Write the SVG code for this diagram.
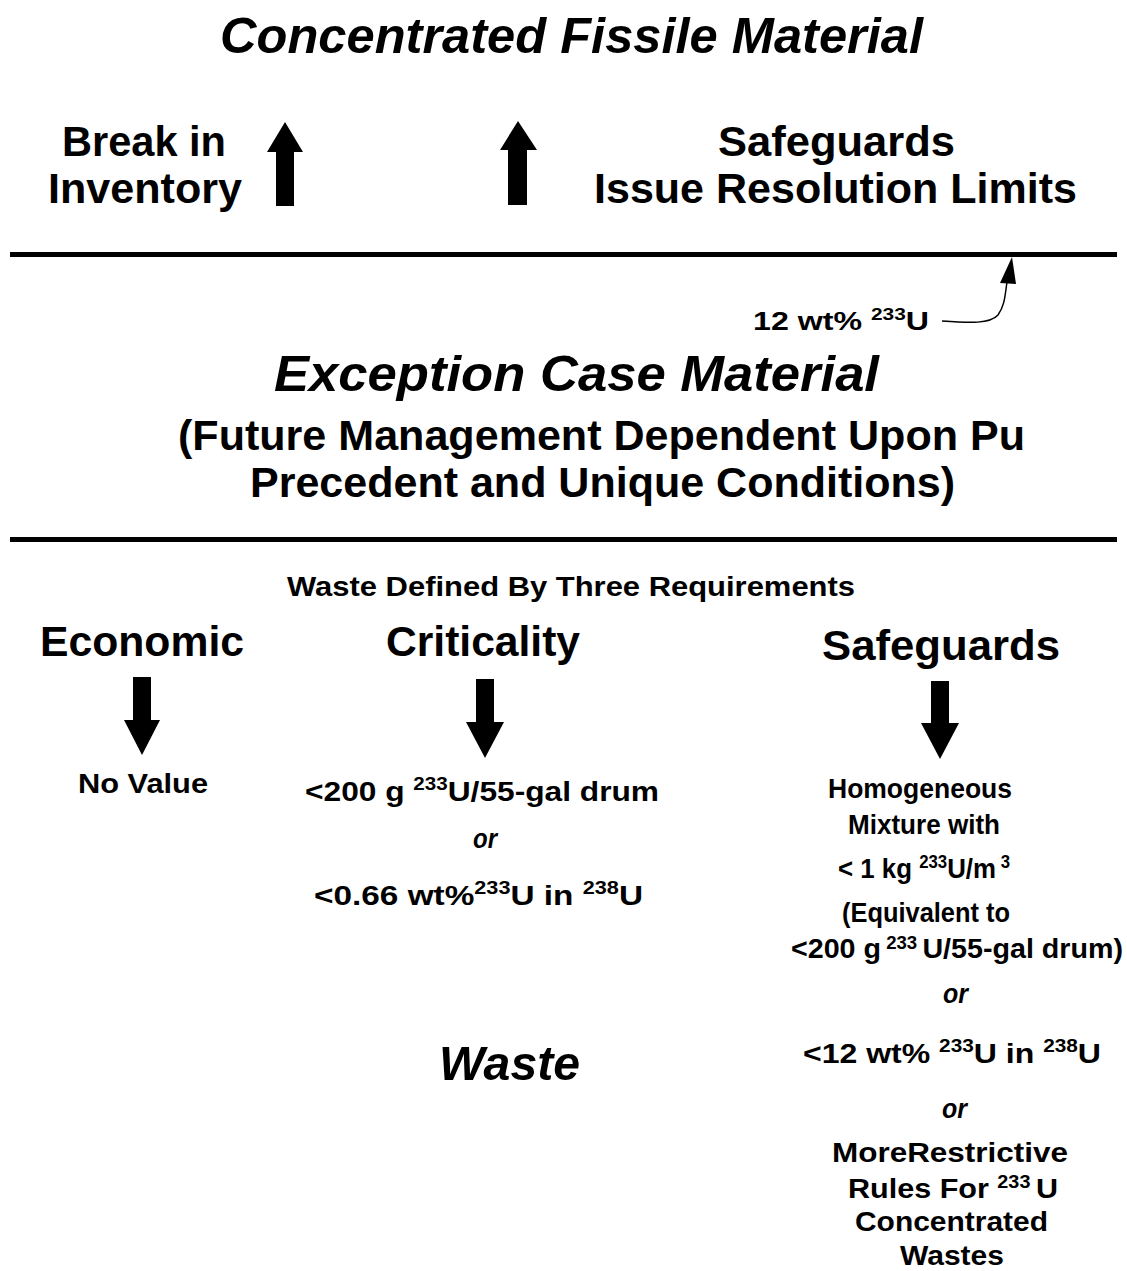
<svg xmlns="http://www.w3.org/2000/svg" width="1127" height="1271" viewBox="0 0 1127 1271">
<style>
text{font-family:"Liberation Sans",Arial,sans-serif;font-weight:bold;fill:#000}
.it{font-style:italic}
.sup{font-size:0.65em}
</style>
<rect width="1127" height="1271" fill="#fff"/>
<g id="title"><text class="it" x="220" y="53" font-size="50" textLength="703" lengthAdjust="spacingAndGlyphs">Concentrated Fissile Material</text></g>
<g id="break-inventory">
<text x="62" y="156" font-size="42" textLength="164" lengthAdjust="spacingAndGlyphs">Break in</text>
<text x="48" y="203" font-size="42" textLength="194" lengthAdjust="spacingAndGlyphs">Inventory</text>
</g>
<g id="safeguards-limits">
<text x="718" y="156" font-size="42" textLength="237" lengthAdjust="spacingAndGlyphs">Safeguards</text>
<text x="594" y="203" font-size="42" textLength="483" lengthAdjust="spacingAndGlyphs">Issue Resolution Limits</text>
</g>
<g id="label-12wt"><text x="753" y="330" font-size="26" textLength="176" lengthAdjust="spacingAndGlyphs">12 wt% <tspan class="sup" dy="-10">233</tspan><tspan dy="10">U</tspan></text></g>
<g id="exception">
<text class="it" x="274" y="391" font-size="50" textLength="605" lengthAdjust="spacingAndGlyphs">Exception Case Material</text>
<text x="178" y="450" font-size="42" textLength="847" lengthAdjust="spacingAndGlyphs">(Future Management Dependent Upon Pu</text>
<text x="250" y="497" font-size="42" textLength="705" lengthAdjust="spacingAndGlyphs">Precedent and Unique Conditions)</text>
</g>
<g id="waste-defined"><text x="287" y="596" font-size="27" textLength="568" lengthAdjust="spacingAndGlyphs">Waste Defined By Three Requirements</text></g>
<g id="economic">
<text x="40" y="656" font-size="42" textLength="204" lengthAdjust="spacingAndGlyphs">Economic</text>
<text x="78" y="793" font-size="28" textLength="130" lengthAdjust="spacingAndGlyphs">No Value</text>
</g>
<g id="criticality">
<text x="386" y="656" font-size="42" textLength="194" lengthAdjust="spacingAndGlyphs">Criticality</text>
<text x="305" y="801" font-size="28" textLength="354" lengthAdjust="spacingAndGlyphs">&lt;200 g <tspan class="sup" dy="-11">233</tspan><tspan dy="11">U/55-gal drum</tspan></text>
<text class="it" x="473" y="848" font-size="28" textLength="24" lengthAdjust="spacingAndGlyphs">or</text>
<text x="314" y="905" font-size="28" textLength="329" lengthAdjust="spacingAndGlyphs">&lt;0.66 wt%<tspan class="sup" dy="-11">233</tspan><tspan dy="11">U in </tspan><tspan class="sup" dy="-11">238</tspan><tspan dy="11">U</tspan></text>
</g>
<g id="safeguards">
<text x="822" y="660" font-size="43" textLength="238" lengthAdjust="spacingAndGlyphs">Safeguards</text>
<text x="828" y="798" font-size="27" textLength="184" lengthAdjust="spacingAndGlyphs">Homogeneous</text>
<text x="848" y="834" font-size="27" textLength="152" lengthAdjust="spacingAndGlyphs">Mixture with</text>
<text x="838" y="878" font-size="27" textLength="172" lengthAdjust="spacingAndGlyphs">&lt; 1 kg <tspan class="sup" dy="-10">233</tspan><tspan dy="10">U/m</tspan><tspan class="sup" dy="-10"> 3</tspan></text>
<text x="842" y="922" font-size="27" textLength="168" lengthAdjust="spacingAndGlyphs">(Equivalent to</text>
<text x="791" y="958" font-size="27" textLength="332" lengthAdjust="spacingAndGlyphs">&lt;200 g<tspan class="sup" dy="-9"> 233 </tspan><tspan dy="9">U/55-gal drum)</tspan></text>
<text class="it" x="943" y="1003" font-size="27" textLength="25" lengthAdjust="spacingAndGlyphs">or</text>
<text x="803" y="1063" font-size="28" textLength="298" lengthAdjust="spacingAndGlyphs">&lt;12 wt% <tspan class="sup" dy="-11">233</tspan><tspan dy="11">U in </tspan><tspan class="sup" dy="-11">238</tspan><tspan dy="11">U</tspan></text>
<text class="it" x="942" y="1118" font-size="27" textLength="25" lengthAdjust="spacingAndGlyphs">or</text>
<text x="832" y="1162" font-size="27" textLength="236" lengthAdjust="spacingAndGlyphs">MoreRestrictive</text>
<text x="848" y="1198" font-size="27" textLength="210" lengthAdjust="spacingAndGlyphs">Rules For <tspan class="sup" dy="-10">233 </tspan><tspan dy="10">U</tspan></text>
<text x="855" y="1231" font-size="27" textLength="193" lengthAdjust="spacingAndGlyphs">Concentrated</text>
<text x="900" y="1265" font-size="27" textLength="104" lengthAdjust="spacingAndGlyphs">Wastes</text>
</g>
<g id="waste"><text class="it" x="439" y="1080" font-size="48" textLength="141" lengthAdjust="spacingAndGlyphs">Waste</text></g>
<g id="connectors">
<rect x="10" y="252" width="1107" height="5"/>
<rect x="10" y="537" width="1107" height="5"/>
<path d="M276 150H294V206H276Z M267 152L285 122L303 152Z"/>
<path d="M508 148H527V205H508Z M500 150L518 121L537 150Z"/>
<path d="M133 677H151V722H133Z M124 720H160L142 755Z"/>
<path d="M476 679H494V724H476Z M466 722H504L485 758Z"/>
<path d="M931 681H949V725H931Z M921 723H959L940 759Z"/>
<path d="M942 321 C970 323 990 324 998 315 C1005 305 1005 295 1007 282" fill="none" stroke="#000" stroke-width="1.5"/>
<path d="M1012 257 L1000 283 L1016 284Z"/>
</g>
</svg>
